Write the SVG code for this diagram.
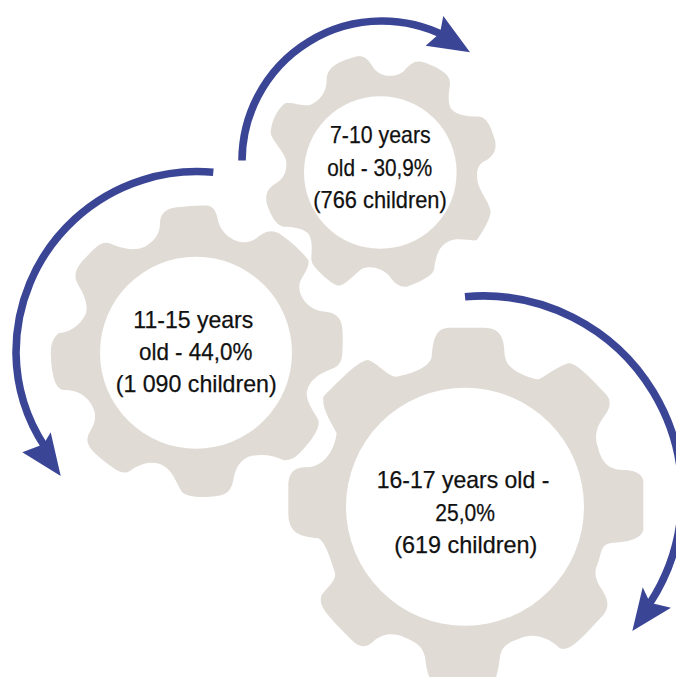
<svg xmlns="http://www.w3.org/2000/svg" width="676" height="677" viewBox="0 0 676 677">
<style>
.gear{fill:#e0dbd5}
.hole{fill:#fff}
.arc{fill:none;stroke:#3b4596;stroke-width:7.6}
.head{fill:#3b4596}
text{font-family:"Liberation Sans Narrow","Liberation Sans",Arial,sans-serif;font-size:24px;fill:#111;stroke:#111;stroke-width:.25;text-anchor:start}
</style>
<rect width="676" height="677" fill="#fff"/>
<g id="gear-7-10">
<path class="gear" transform="translate(230 0) scale(.33333)" d="M290 240C290 195 340 180 385 168C405 168 415 180 425 195C440 225 480 240 520 215C545 185 560 178 590 190C625 205 660 220 660 250C660 265 650 300 662 325C680 350 725 350 750 350C775 355 785 390 795 420C800 445 795 465 770 480C745 490 738 510 742 540C745 570 780 610 782 635C780 660 755 700 740 720C725 725 690 712 660 722C630 735 618 760 612 810C605 830 560 850 530 860C505 862 490 845 480 830C460 805 420 795 395 807C370 825 345 857 325 857C300 850 265 815 250 795C235 775 255 745 238 705C225 685 190 680 160 680C135 675 120 640 110 610C105 580 115 565 135 552C165 535 172 510 168 480C160 450 120 415 122 395C125 365 140 330 165 310C190 305 215 320 240 315C265 305 290 280 290 240Z"/>
<circle class="hole" cx="380.3" cy="172.5" r="76.3"/>
<text x="330" y="143.3" textLength="100.7" lengthAdjust="spacingAndGlyphs">7-10 years</text>
<text x="327.3" y="175.7" textLength="105" lengthAdjust="spacingAndGlyphs">old - 30,9%</text>
<text x="313.3" y="208.3" textLength="133.4" lengthAdjust="spacingAndGlyphs">(766 children)</text>
</g>
<g id="gear-11-15">
<path class="gear" transform="translate(0 160) scale(.33333)" d="M480 190C480 165 495 145 530 142C565 138 600 135 625 137C645 142 650 160 655 185C665 225 720 265 765 238C790 215 815 205 840 222C880 250 905 275 925 300C930 320 910 345 900 365C890 400 915 440 960 453C990 458 1028 455 1028 520C1028 590 1030 610 1000 625C960 640 925 660 920 700C920 730 945 760 955 780C960 800 945 825 925 850C900 880 880 905 850 900C820 885 780 880 745 890C715 905 705 930 700 960C695 990 680 1005 650 1008C600 1015 560 1010 545 995C525 960 515 925 480 912C440 900 410 920 385 935C365 945 340 925 300 893C260 860 255 840 270 815C285 790 290 770 280 745C265 710 235 690 195 690C170 690 160 660 155 620C150 570 150 545 175 520C205 518 240 500 258 460C265 430 250 400 235 375C220 350 225 330 245 305C280 270 300 240 330 250C360 265 400 275 435 260C470 240 480 215 480 190Z"/>
<circle class="hole" cx="196" cy="352.7" r="96"/>
<text x="133.3" y="327.7" textLength="120" lengthAdjust="spacingAndGlyphs">11-15 years</text>
<text x="139" y="360" textLength="113.3" lengthAdjust="spacingAndGlyphs">old - 44,0%</text>
<text x="115.7" y="391.7" textLength="161" lengthAdjust="spacingAndGlyphs">(1 090 children)</text>
</g>
<g id="gear-16-17">
<path class="gear" transform="translate(280 280) scale(.33333)" d="M455 230C460 170 470 143 510 143L610 143C650 143 668 160 672 200C675 240 675 255 720 280C745 292 765 298 775 298C790 295 820 265 865 250C885 250 910 270 980 345C995 365 990 385 975 405C950 440 945 460 950 490C960 520 965 570 1030 570C1075 570 1090 590 1090 605L1090 750C1085 770 1060 785 1000 788C960 790 965 820 955 845C945 870 940 885 960 920C985 955 990 980 970 1005C900 1080 870 1115 840 1105C800 1065 750 1060 720 1075C680 1090 665 1100 660 1130C655 1170 650 1190 640 1215L460 1215C445 1190 440 1170 435 1130C425 1090 400 1085 370 1070C330 1055 305 1065 285 1080C260 1105 240 1105 215 1080C130 995 115 975 125 945C140 925 170 900 165 880C150 830 135 785 115 775C60 770 25 760 25 700L25 620C25 570 50 562 80 562C140 560 165 500 170 460C150 420 125 385 130 350C170 310 235 240 265 240C300 255 330 295 350 290C400 280 450 260 455 230Z"/>
<circle class="hole" cx="465" cy="506.7" r="119"/>
<text x="376.7" y="488.3" textLength="172.6" lengthAdjust="spacingAndGlyphs">16-17 years old -</text>
<text x="435.3" y="520.7" textLength="59.7" lengthAdjust="spacingAndGlyphs">25,0%</text>
<text x="394.3" y="552.7" textLength="143" lengthAdjust="spacingAndGlyphs">(619 children)</text>
</g>
<g id="connectors">
<path class="arc" d="M242 160.500A140 140 0 0 1 445 36"/>
<path class="head" d="M470 52.300L443.300 16L440 33L425.700 45.700Z"/>
<path class="arc" d="M213.300 172.300A181 181 0 0 0 16 353A175 175 0 0 0 45 447"/>
<path class="head" d="M60.700 476L50.700 432.300L43.500 444.300L22.300 452.300Z"/>
<path class="arc" d="M465 296.700A199 199 0 0 1 650 603"/>
<path class="head" d="M632.300 631L642.700 587.300L650 602.700L671 607.700Z"/>
</g>
</svg>
